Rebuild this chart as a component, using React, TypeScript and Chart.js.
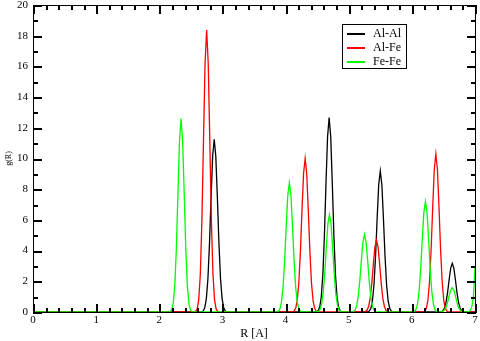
import React, { useEffect, useRef } from "react";
import { Chart, registerables } from "chart.js";

Chart.register(...registerables);

const seriesLabels = ["Al-Al", "Al-Fe", "Fe-Fe"];
const seriesColors = ["#000000", "#ff0000", "#00ff00"];

const xTickValues = [0, 1, 2, 3, 4, 5, 6, 7];
const yTickValues = [0, 2, 4, 6, 8, 10, 12, 14, 16, 18, 20];

// Al-Al
const alAlR = [
  0,
  2.67, 2.695, 2.72, 2.745, 2.77, 2.795, 2.82, 2.845, 2.87, 2.895, 2.92, 2.945, 2.97, 2.995, 3.02, 3.045, 3.07,
  4.49, 4.515, 4.54, 4.565, 4.59, 4.615, 4.64, 4.665, 4.69, 4.715, 4.74, 4.765, 4.79, 4.815, 4.84, 4.865, 4.89,
  5.3, 5.325, 5.35, 5.375, 5.4, 5.425, 5.45, 5.475, 5.5, 5.525, 5.55, 5.575, 5.6, 5.625, 5.65, 5.675, 5.7,
  6.44, 6.465, 6.49, 6.515, 6.54, 6.565, 6.59, 6.615, 6.64, 6.665, 6.69, 6.715, 6.74, 6.765, 6.79, 6.815, 6.84,
  7,
];
const alAlG = [
  0,
  0, 0.07, 0.27, 0.86, 2.15, 4.44, 7.45, 10.15, 11.25, 10.15, 7.45, 4.44, 2.15, 0.86, 0.27, 0.07, 0,
  0, 0.08, 0.3, 0.96, 2.42, 5.0, 8.38, 11.42, 12.66, 11.42, 8.38, 5.0, 2.42, 0.96, 0.3, 0.08, 0,
  0, 0.06, 0.22, 0.7, 1.76, 3.63, 6.08, 8.29, 9.19, 8.29, 6.08, 3.63, 1.76, 0.7, 0.22, 0.06, 0,
  0, 0.02, 0.08, 0.24, 0.61, 1.25, 2.1, 2.86, 3.17, 2.86, 2.1, 1.25, 0.61, 0.24, 0.08, 0.02, 0,
  0,
];

// Al-Fe
const alFeR = [
  0,
  2.55, 2.575, 2.6, 2.625, 2.65, 2.675, 2.7, 2.725, 2.75, 2.775, 2.8, 2.825, 2.85, 2.875, 2.9, 2.925, 2.95,
  4.11, 4.135, 4.16, 4.185, 4.21, 4.235, 4.26, 4.285, 4.31, 4.335, 4.36, 4.385, 4.41, 4.435, 4.46, 4.485, 4.51,
  5.24, 5.265, 5.29, 5.315, 5.34, 5.365, 5.39, 5.415, 5.44, 5.465, 5.49, 5.515, 5.54, 5.565, 5.59, 5.615, 5.64,
  6.18, 6.205, 6.23, 6.255, 6.28, 6.305, 6.33, 6.355, 6.38, 6.405, 6.43, 6.455, 6.48, 6.505, 6.53, 6.555, 6.58,
  7,
];
const alFeG = [
  0,
  0, 0.04, 0.2, 0.81, 2.48, 5.97, 11.15, 16.2, 18.37, 16.2, 11.15, 5.97, 2.48, 0.81, 0.2, 0.04, 0,
  0, 0.06, 0.24, 0.76, 1.91, 3.95, 6.62, 9.02, 10.0, 9.02, 6.62, 3.95, 1.91, 0.76, 0.24, 0.06, 0,
  0, 0.03, 0.11, 0.36, 0.9, 1.85, 3.1, 4.23, 4.69, 4.23, 3.1, 1.85, 0.9, 0.36, 0.11, 0.03, 0,
  0, 0.06, 0.25, 0.78, 1.97, 4.06, 6.81, 9.28, 10.29, 9.28, 6.81, 4.06, 1.97, 0.78, 0.25, 0.06, 0,
  0,
];

// Fe-Fe
const feFeR = [
  0,
  2.145, 2.17, 2.195, 2.22, 2.245, 2.27, 2.295, 2.32, 2.345, 2.37, 2.395, 2.42, 2.445, 2.47, 2.495, 2.52, 2.545,
  3.86, 3.885, 3.91, 3.935, 3.96, 3.985, 4.01, 4.035, 4.06, 4.085, 4.11, 4.135, 4.16, 4.185, 4.21, 4.235, 4.26,
  4.495, 4.52, 4.545, 4.57, 4.595, 4.62, 4.645, 4.67, 4.695, 4.72, 4.745, 4.77, 4.795, 4.82, 4.845, 4.87, 4.895,
  5.05, 5.075, 5.1, 5.125, 5.15, 5.175, 5.2, 5.225, 5.25, 5.275, 5.3, 5.325, 5.35, 5.375, 5.4, 5.425, 5.45,
  6.015, 6.04, 6.065, 6.09, 6.115, 6.14, 6.165, 6.19, 6.215, 6.24, 6.265, 6.29, 6.315, 6.34, 6.365, 6.39, 6.415,
  6.44, 6.465, 6.49, 6.515, 6.54, 6.565, 6.59, 6.615, 6.64, 6.665, 6.69, 6.715, 6.74, 6.765, 6.79, 6.815, 6.84,
  6.875, 6.9, 6.925, 6.95, 6.975, 7.0, 7.025,
];
const feFeG = [
  0,
  0, 0.03, 0.14, 0.55, 1.7, 4.1, 7.65, 11.11, 12.6, 11.11, 7.65, 4.1, 1.7, 0.55, 0.14, 0.03, 0,
  0, 0.05, 0.2, 0.64, 1.61, 3.33, 5.58, 7.6, 8.43, 7.6, 5.58, 3.33, 1.61, 0.64, 0.2, 0.05, 0,
  0, 0.04, 0.15, 0.48, 1.21, 2.51, 4.21, 5.74, 6.36, 5.74, 4.21, 2.51, 1.21, 0.48, 0.15, 0.04, 0,
  0, 0.03, 0.12, 0.38, 0.97, 2.0, 3.35, 4.56, 5.06, 4.56, 3.35, 2.0, 0.97, 0.38, 0.12, 0.03, 0,
  0, 0.04, 0.17, 0.55, 1.37, 2.84, 4.76, 6.49, 7.19, 6.49, 4.76, 2.84, 1.37, 0.55, 0.17, 0.04, 0,
  0, 0.01, 0.04, 0.12, 0.3, 0.62, 1.05, 1.43, 1.58, 1.43, 1.05, 0.62, 0.3, 0.12, 0.04, 0.01, 0,
  0, 0.02, 0.1, 0.35, 1.0, 2.87, 5.5,
];

const SERIF = '"Liberation Serif", "Times New Roman", serif';

const toPoints = (xs: number[], ys: number[]) => xs.map((x, i) => ({ x, y: ys[i] }));

const overlayPlugin = {
  id: "overlay",
  afterDraw(chart: any) {
    const ctx: CanvasRenderingContext2D = chart.ctx;
    ctx.save();
    const area = chart.chartArea;
    const xs = chart.scales["x"];
    const ys = chart.scales["y"];
    const L = Math.round(area.left);
    const R = Math.round(area.right);
    const T = Math.round(area.top);
    const B = Math.round(area.bottom);
    ctx.fillStyle = "#000000";
    ctx.fillRect(L, T, R - L + 1, 1);
    ctx.fillRect(L, B, R - L + 1, 1);
    ctx.fillRect(L, T, 1, B - T + 1);
    ctx.fillRect(R, T, 1, B - T + 1);
    for (let i = 0; i <= 35; i++) {
      const len = i % 5 === 0 ? 9 : 5;
      const px = Math.round(xs.getPixelForValue(i / 5));
      ctx.fillRect(px, B - len + 1, 2, len);
      ctx.fillRect(px, T, 2, len);
    }
    for (let i = 0; i <= 20; i++) {
      const len = i % 2 === 0 ? 9 : 5;
      const py = Math.round(ys.getPixelForValue(i));
      ctx.fillRect(L, py, len, 2);
      ctx.fillRect(R - len + 1, py, len, 2);
    }

    const bx = 342, by = 24, bw = 64, bh = 44;
    ctx.fillStyle = "#ffffff";
    ctx.fillRect(bx, by, bw, bh);
    ctx.fillStyle = "#000000";
    ctx.fillRect(bx, by, bw + 1, 1);
    ctx.fillRect(bx, by + bh, bw + 1, 1);
    ctx.fillRect(bx, by, 1, bh + 1);
    ctx.fillRect(bx + bw, by, 1, bh + 1);
    ctx.font = `12px ${SERIF}`;
    ctx.textBaseline = "middle";
    ctx.textAlign = "left";
    const rows = [33, 47, 61];
    for (let i = 0; i < seriesLabels.length; i++) {
      const y = rows[i];
      ctx.fillStyle = seriesColors[i];
      ctx.fillRect(347, y, 18, 2);
      ctx.fillStyle = "#000000";
      ctx.fillText(seriesLabels[i], 373, y + 1);
    }
    ctx.restore();
  },
};

export default function App() {
  const ref = useRef<HTMLCanvasElement | null>(null);
  useEffect(() => {
    if (!ref.current) return;
    const series = [
      toPoints(alAlR, alAlG),
      toPoints(alFeR, alFeG),
      toPoints(feFeR, feFeG),
    ];
    const chart = new Chart(ref.current, {
      type: "line",
      data: {
        datasets: series.map((pts, i) => ({
          label: seriesLabels[i],
          data: pts,
          borderColor: seriesColors[i],
          backgroundColor: seriesColors[i],
          borderWidth: 1.3,
          pointRadius: 0,
          tension: 0,
          fill: false,
          order: 2 - i,
        })),
      },
      options: {
        responsive: false,
        animation: false,
        events: [],
        layout: { padding: { top: 5, right: 5, left: 0, bottom: 0 } },
        plugins: { legend: { display: false }, tooltip: { enabled: false } },
        scales: {
          x: {
            type: "linear",
            min: 0,
            max: 7,
            grid: { display: false, drawTicks: false },
            border: { display: false },
            afterBuildTicks: (s: any) => {
              s.ticks = xTickValues.map((v) => ({ value: v }));
            },
            afterFit: (s: any) => {
              s.height = 29;
              s.paddingLeft = 0;
              s.paddingRight = 0;
            },
            ticks: {
              color: "#000",
              padding: 2,
              maxRotation: 0,
              autoSkip: false,
              font: { family: SERIF, size: 11 },
            },
            title: {
              display: true,
              text: "R [A]",
              color: "#000",
              padding: { top: 0, bottom: 0 },
              font: { family: SERIF, size: 12 },
            },
          },
          y: {
            type: "linear",
            min: 0,
            max: 20,
            grid: { display: false, drawTicks: false },
            border: { display: false },
            afterBuildTicks: (s: any) => {
              s.ticks = yTickValues.map((v) => ({ value: v }));
            },
            afterFit: (s: any) => {
              s.width = 33;
              s.paddingTop = 0;
              s.paddingBottom = 0;
            },
            ticks: {
              color: "#000",
              padding: 5,
              autoSkip: false,
              font: { family: SERIF, size: 11 },
            },
            title: {
              display: true,
              text: "g(R)",
              color: "#000",
              padding: { top: 4, bottom: 0 },
              font: { family: SERIF, size: 8 },
            },
          },
        },
      },
      plugins: [overlayPlugin],
    });
    return () => chart.destroy();
  }, []);
  return (
    <div style={{ position: "absolute", left: 0, top: 0, width: 480, height: 341, background: "#fff" }}>
      <canvas ref={ref} width={480} height={341} style={{ display: "block" }} />
    </div>
  );
}
